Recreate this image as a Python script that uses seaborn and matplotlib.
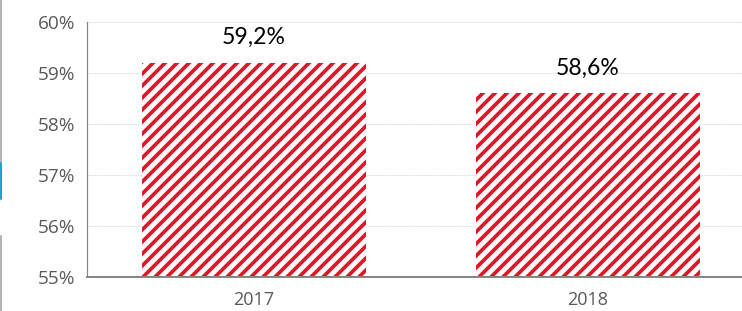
import matplotlib
matplotlib.use('Agg')
import matplotlib.pyplot as plt
import matplotlib.lines as mlines
import seaborn as sns

# %% data
years = ['2017', '2018']
share = [59.2, 58.6]
labels = ['59,2%', '58,6%']
y_ticks = [55, 56, 57, 58, 59, 60]

red = '#D71A28'
grey_txt = '#595959'

sns.set_style('white')
plt.rcParams['font.family'] = ['Open Sans', 'DejaVu Sans']
plt.rcParams['hatch.linewidth'] = 3.7

dpi = 72
fig = plt.figure(figsize=(742 / dpi, 311 / dpi), dpi=dpi)
ax = fig.add_axes([87 / 742, 34 / 311, 668 / 742, 255 / 311])

sns.barplot(x=years, y=share, color='white', edgecolor=red, linewidth=0,
            width=0.67, ax=ax, zorder=3)
for p in ax.patches:
    p.set_hatch('//')
    p.set_edgecolor(red)
    p.set_linewidth(0)

# labels above bars
for i, (v, lab) in enumerate(zip(share, labels)):
    ax.text(i, v + 0.29, lab, ha='center', va='bottom', fontsize=23,
            family=['Lato', 'DejaVu Sans'], color='black')

ax.set_ylim(55, 60)
ax.set_xlim(-0.5, 1.5)
ax.set_yticks(y_ticks)
ax.set_yticklabels([str(t) + '%' for t in y_ticks])
ax.set_xticks(range(len(years)))
ax.set_xticklabels(years)
ax.set_xticks([-0.5, 0.5, 1.5], minor=True)
ax.tick_params(axis='x', which='major', length=0, pad=14, labelsize=18, labelcolor=grey_txt)
ax.tick_params(axis='x', which='minor', length=6, width=1.5, color='#868686', direction='out')
ax.tick_params(axis='y', length=7, width=1, color='#868686', direction='out',
               labelsize=19, labelcolor=grey_txt, pad=5)
ax.set_xlabel('')
ax.set_ylabel('')

ax.yaxis.grid(True, color='#D9D9D9', linestyle=(0, (2, 1)), linewidth=0.8, zorder=0)
ax.set_axisbelow(True)
for s in ['top', 'right']:
    ax.spines[s].set_visible(False)
ax.spines['left'].set_color('#868686')
ax.spines['left'].set_linewidth(1.2)
ax.spines['bottom'].set_color('#868686')
ax.spines['bottom'].set_linewidth(2)
ax.spines['bottom'].set_zorder(4)

# bits of the neighbouring frame at the left edge
fig.add_artist(mlines.Line2D([0.0015, 0.0015], [1, 1 - 163 / 311], color='#B4B4B4', lw=2))
fig.add_artist(mlines.Line2D([0.0015, 0.0015], [1 - 163 / 311, 1 - 199 / 311], color='#1AA7C9', lw=2))
fig.add_artist(mlines.Line2D([0.0015, 0.0015], [1 - 236 / 311, 0], color='#B4B4B4', lw=2))

fig.savefig('out.png', dpi=dpi)
